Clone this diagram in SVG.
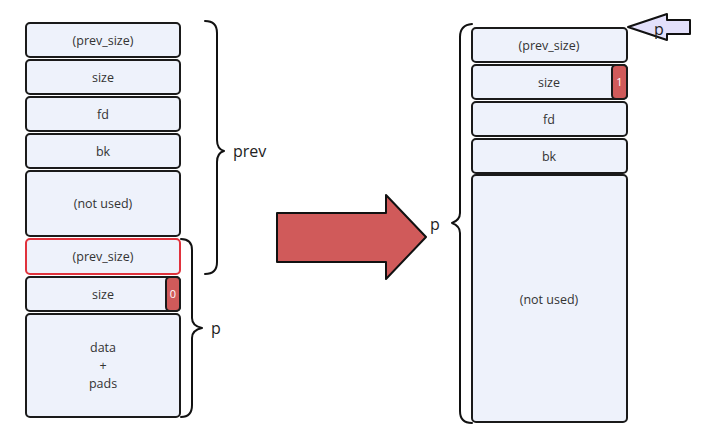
<svg xmlns="http://www.w3.org/2000/svg" width="711" height="435" viewBox="0 0 711 435">
<style>
.box{fill:#eef2fb;stroke:#1a1a1a;stroke-width:2}
.hl{fill:#eef2fb;stroke:#e0323c;stroke-width:2}
.tag{fill:#d05a5a;stroke:#1a1a1a;stroke-width:2}
.t{font-family:"Open Sans","Noto Sans",sans-serif;font-size:12.5px;fill:#333;text-anchor:middle}
.tw{font-family:"Open Sans","Noto Sans",sans-serif;font-size:11px;fill:#fff;text-anchor:middle}
.lb{font-family:"Open Sans","Noto Sans",sans-serif;font-size:16px;fill:#222}
.brace{fill:none;stroke:#111;stroke-width:2;stroke-linecap:round;stroke-linejoin:round}
</style>
<rect width="711" height="435" fill="#fff"/>
<g id="left-chunk">
<g id="l-prev-size"><rect class="box" x="26" y="23" width="154" height="34" rx="4"/><text class="t" x="103" y="45">(prev_size)</text></g>
<g id="l-size"><rect class="box" x="26" y="60" width="154" height="34" rx="4"/><text class="t" x="103" y="82">size</text></g>
<g id="l-fd"><rect class="box" x="26" y="97" width="154" height="34" rx="4"/><text class="t" x="103" y="119">fd</text></g>
<g id="l-bk"><rect class="box" x="26" y="134" width="154" height="34" rx="4"/><text class="t" x="103" y="156">bk</text></g>
<g id="l-notused"><rect class="box" x="26" y="171" width="154" height="65" rx="4"/><text class="t" x="103" y="208">(not used)</text></g>
<g id="l-prev-size2"><rect class="hl" x="26" y="239" width="154" height="35" rx="4"/><text class="t" x="103" y="261">(prev_size)</text></g>
<g id="l-size2"><rect class="box" x="26" y="277" width="154" height="34" rx="4"/><text class="t" x="103" y="299">size</text><rect class="tag" x="166" y="277" width="14" height="34" rx="4"/><text class="tw" x="173" y="298">0</text></g>
<g id="l-data"><rect class="box" x="26" y="314" width="154" height="103" rx="4"/><text class="t" x="103" y="352">data</text><text class="t" x="103" y="370">+</text><text class="t" x="103" y="388">pads</text></g>
</g>
<g id="right-chunk">
<g id="r-prev-size"><rect class="box" x="472" y="28" width="155" height="34" rx="4"/><text class="t" x="549" y="50">(prev_size)</text></g>
<g id="r-size"><rect class="box" x="472" y="65" width="155" height="34" rx="4"/><text class="t" x="549" y="87">size</text><rect class="tag" x="612" y="65" width="15" height="34" rx="4"/><text class="tw" x="619.5" y="86">1</text></g>
<g id="r-fd"><rect class="box" x="472" y="102" width="155" height="34" rx="4"/><text class="t" x="549" y="124">fd</text></g>
<g id="r-bk"><rect class="box" x="472" y="139" width="155" height="34" rx="4"/><text class="t" x="549" y="161">bk</text></g>
<g id="r-notused"><rect class="box" x="472" y="175" width="155" height="247" rx="4"/><text class="t" x="549" y="304">(not used)</text></g>
</g>
<g id="connectors">
<path class="brace" d="M205,21 Q217,21 217,33 L217,140 Q217,149 224,151 Q217,153 217,162 L217,262 Q217,274 205,274"/>
<text class="lb" x="233" y="157">prev</text>
<path class="brace" d="M181,239 Q192,239 192,250 L192,318 Q192,326 202,328 Q192,330 192,338 L192,405 Q192,417 181,417"/>
<text class="lb" x="211" y="334">p</text>
<path class="brace" d="M472,24 Q460,25 460,37 L460,213 Q460,220 452,223 Q460,226 460,233 L460,411 Q460,423 472,423"/>
<text class="lb" x="430" y="230">p</text>
<path id="big-arrow" d="M277,213 L386,213 L386,195 L426,237 L386,279 L386,262 L277,262 Z" fill="#d05a5a" stroke="#111" stroke-width="2" stroke-linejoin="round"/>
<path id="p-arrow" d="M628,27 L667,14 L667,20 L690,20 L690,34 L667,34 L667,40 Z" fill="#e3e0fb" stroke="#111" stroke-width="2" stroke-linejoin="round"/>
<text class="lb" x="654" y="35" font-size="14">p</text>
</g>
</svg>
